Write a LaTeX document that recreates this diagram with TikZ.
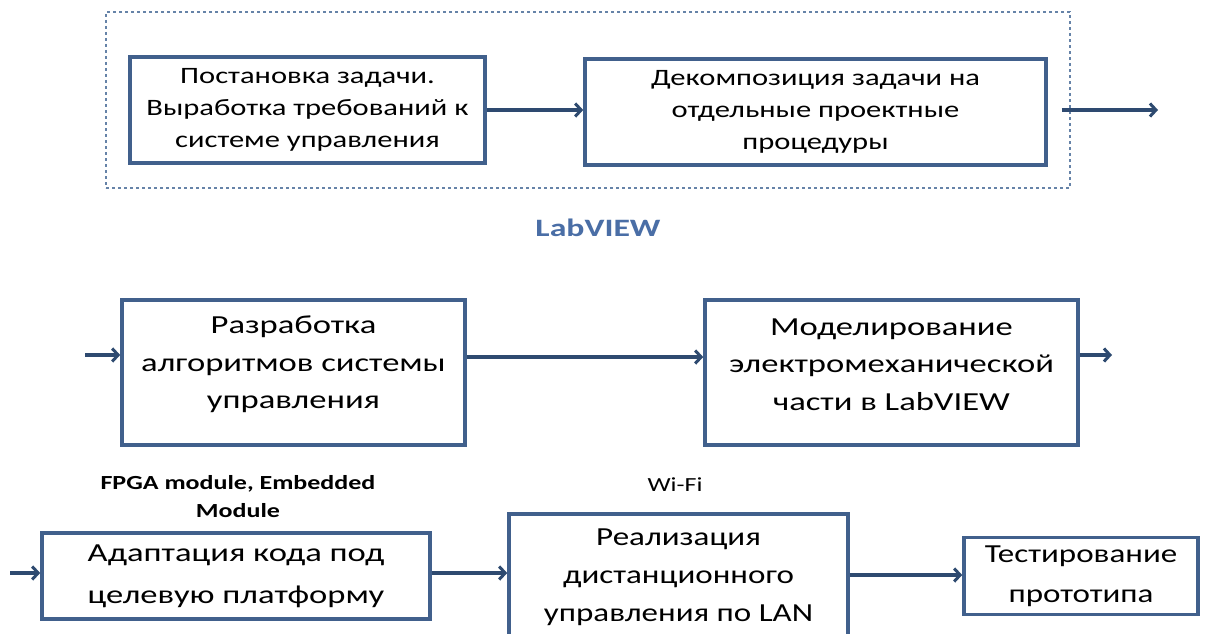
\documentclass[tikz,border=0pt]{standalone}
\usepackage{fontspec}
\setmainfont{Carlito}
\newfontfamily\fwa[FakeStretch=1.3]{Carlito}
\newfontfamily\fwb[FakeStretch=1.33]{Carlito}
\newfontfamily\fwd[FakeStretch=1.3]{Carlito}
\newfontfamily\fwe[FakeStretch=1.35]{Carlito}
\newfontfamily\fwf[FakeStretch=1.27]{Carlito}
\usetikzlibrary{arrows.meta}
\definecolor{boxc}{HTML}{41608C}
\definecolor{arrc}{HTML}{2E4A70}
\definecolor{dashc}{HTML}{6683A8}
\definecolor{labc}{HTML}{4A6EA6}
\tikzset{
  stage/.style={draw=boxc, line width=3.6pt, fill=white, rectangle, inner sep=0pt, align=center},
  flow/.style={draw=arrc, line width=3.6pt, -{Straight Barb[length=6pt,width=13pt,line width=3pt]}},
  note/.style={align=center, inner sep=0pt},
  midtext/.style={align=center, inner sep=0pt, yshift=8pt, font=\fwb\fontsize{26}{37.5}\selectfont},
}
\begin{document}
\begin{tikzpicture}[x=1pt,y=-1pt]
\useasboundingbox (0,0) rectangle (1212,634);
\fill[white] (0,0) rectangle (1212,634);
\node[draw=dashc, dashed, line width=1.5pt, minimum width=964pt, minimum height=176pt, inner sep=0pt] (grp) at (588,100) {};
\node[stage, font=\fwa\fontsize{23.5}{32}\selectfont, minimum width=355pt, minimum height=106pt] (b1) at (307.5,110) {Постановка задачи.\\Выработка требований к\\системе управления};
\node[stage, font=\fwa\fontsize{23.5}{32}\selectfont, minimum width=461pt, minimum height=106pt] (b2) at (815.5,112) {Декомпозиция задачи на\\отдельные проектные\\процедуры};
\coordinate (o1) at (1158,110);
\draw[flow] (b1.east |- 0,110) -- (b2.west |- 0,110);
\draw[flow] (b2.east |- 0,110) ++(14,0) -- (o1);
\node[font=\fwe\fontsize{25}{30}\selectfont\bfseries, text=labc, inner sep=0pt] (lv) at (598,228) {LabVIEW};

\node[stage, minimum width=343pt, minimum height=145pt,
  label={[midtext]center:{Разработка\\алгоритмов системы\\управления}}] (b3) at (293.5,372.5) {};
\node[stage, minimum width=373pt, minimum height=145pt,
  label={[midtext]center:{Моделирование\\электромеханической\\части в LabVIEW}}] (b4) at (891.5,372.5) {};
\coordinate (i2) at (85,355);
\coordinate (o2) at (1112,355);
\draw[flow] (i2) -- (b3.west |- 0,355);
\draw[flow] (b3.east |- 0,357) -- (b4.west |- 0,357);
\draw[flow] (b4.east |- 0,355) -- (o2);

\node[note, font=\fwd\fontsize{20}{28}\selectfont\bfseries] (fpga) at (238,497) {FPGA module, Embedded\\Module};
\node[note, font=\fwd\fontsize{20}{28}\selectfont] (wifi) at (675,485) {Wi-Fi};
\node[stage, font=\fwb\fontsize{26}{42}\selectfont, minimum width=388pt, minimum height=86pt] (b5) at (236,576) {Адаптация кода под\\целевую платформу};
\node[stage, font=\fwf\fontsize{26}{38}\selectfont, minimum width=339pt, minimum height=126pt] (b6) at (678.5,577) {Реализация\\дистанционного\\управления по LAN};
\node[stage, font=\fwf\fontsize{26}{40}\selectfont, minimum width=234pt, minimum height=77pt] (b7) at (1081,576) {Тестирование\\прототипа};
\coordinate (i3) at (10,573);
\draw[flow] (i3) -- (b5.west |- 0,573);
\draw[flow] (b5.east |- 0,573) -- (b6.west |- 0,573);
\draw[flow] (b6.east |- 0,575) -- (b7.west |- 0,575);
\end{tikzpicture}
\end{document}
